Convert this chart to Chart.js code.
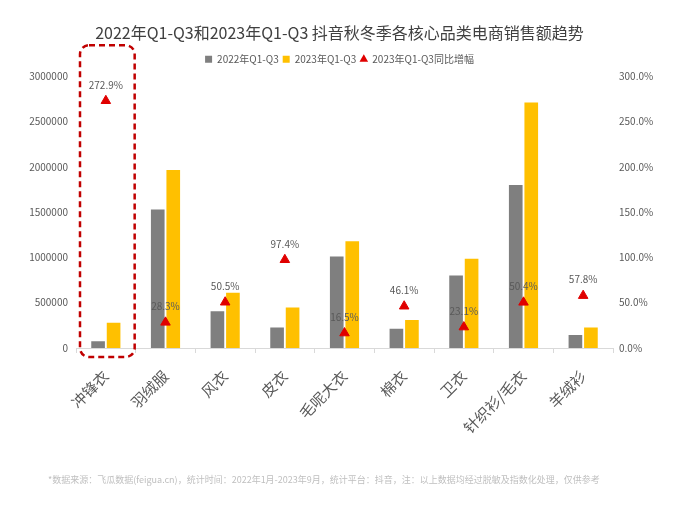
<!DOCTYPE html>
<html>
<head>
<meta charset="utf-8">
<script src="https://cdn.jsdelivr.net/npm/chart.js@4"></script>
<style>
  html, body { margin: 0; padding: 0; background: #fff; }
  #wrap { width: 679px; height: 513px; }
</style>
</head>
<body>
<div id="wrap"><canvas id="salesChart" width="679" height="513"></canvas></div>
<script>
const categories = ['冲锋衣', '羽绒服', '风衣', '皮衣', '毛呢大衣', '棉衣', '卫衣', '针织衫/毛衣', '羊绒衫'];
const sales2022 = [75000, 1530000, 405000, 227000, 1010000, 212000, 800000, 1800000, 143000];
const sales2023 = [280000, 1965000, 610000, 448000, 1177000, 310000, 985000, 2710000, 226000];
const growth = [272.9, 28.3, 50.5, 97.4, 16.5, 46.1, 23.1, 50.4, 57.8];

const FONT = "'Noto Sans CJK SC', 'Noto Sans', sans-serif";
const footnote = '*数据来源：飞瓜数据(feigua.cn)，统计时间：2022年1月-2023年9月，统计平台：抖音，注：以上数据均经过脱敏及指数化处理，仅供参考';

// a little extra room under the legend
const legendSpace = {
  id: 'legendSpace',
  beforeInit(chart) {
    const fit = chart.legend.fit;
    chart.legend.fit = function () {
      fit.call(this);
      this.height += 2;
    };
  }
};

// percent labels above the triangles
const growthLabels = {
  id: 'growthLabels',
  afterDatasetsDraw(chart) {
    const ctx = chart.ctx;
    const meta = chart.getDatasetMeta(2);
    ctx.save();
    ctx.font = '10px ' + FONT;
    ctx.fillStyle = '#595959';
    ctx.textAlign = 'center';
    ctx.textBaseline = 'middle';
    meta.data.forEach((pt, i) => {
      ctx.fillText(growth[i].toFixed(1) + '%', pt.x, pt.y - 16);
    });
    ctx.restore();
  }
};

// dashed highlight round the first category
const highlightBox = {
  id: 'highlightBox',
  afterDatasetsDraw(chart) {
    const x = chart.scales.x;
    const area = chart.chartArea;
    const half = (x.getPixelForValue(1) - x.getPixelForValue(0)) / 2;
    const c = x.getPixelForValue(0);
    const left = c - half + 4, right = c + half - 1;
    const top = area.top - 31, bottom = area.bottom + 9;
    const ctx = chart.ctx;
    ctx.save();
    ctx.strokeStyle = '#c00000';
    ctx.lineWidth = 2.5;
    ctx.setLineDash([6, 4]);
    ctx.beginPath();
    ctx.roundRect(left, top, right - left, bottom - top, 9);
    ctx.stroke();
    ctx.restore();
  }
};

const footnoteText = {
  id: 'footnoteText',
  afterDraw(chart) {
    const ctx = chart.ctx;
    ctx.save();
    ctx.font = '9px ' + FONT;
    ctx.fillStyle = '#bfbfbf';
    ctx.textAlign = 'left';
    ctx.textBaseline = 'middle';
    ctx.fillText(footnote, 48, 480);
    ctx.restore();
  }
};

const ctx = document.getElementById('salesChart').getContext('2d');
new Chart(ctx, {
  type: 'bar',
  data: {
    labels: categories,
    datasets: [
      {
        label: '2022年Q1-Q3',
        data: sales2022,
        backgroundColor: '#7f7f7f',
        yAxisID: 'y',
        order: 2,
        categoryPercentage: 0.52,
        barPercentage: 0.88
      },
      {
        label: '2023年Q1-Q3',
        data: sales2023,
        backgroundColor: '#ffc000',
        yAxisID: 'y',
        order: 2,
        categoryPercentage: 0.52,
        barPercentage: 0.88
      },
      {
        type: 'line',
        label: '2023年Q1-Q3同比增幅',
        data: growth,
        yAxisID: 'y1',
        showLine: false,
        pointStyle: 'triangle',
        pointRadius: 5.5,
        pointHoverRadius: 5.5,
        backgroundColor: '#e00000',
        borderColor: '#e00000',
        borderWidth: 1,
        order: 1
      }
    ]
  },
  options: {
    responsive: false,
    animation: false,
    devicePixelRatio: 1,
    layout: { padding: { top: 22, left: 10, right: 10, bottom: 55 } },
    plugins: {
      title: {
        display: true,
        text: '2022年Q1-Q3和2023年Q1-Q3 抖音秋冬季各核心品类电商销售额趋势',
        color: '#404040',
        font: { family: FONT, size: 16, weight: 'normal' },
        padding: { top: 1, bottom: 8 }
      },
      legend: {
        position: 'top',
        labels: {
          usePointStyle: true,
          boxWidth: 7,
          boxHeight: 7,
          padding: 4,
          color: '#595959',
          font: { family: FONT, size: 10 },
          generateLabels(chart) {
            return chart.data.datasets.map((ds, i) => ({
              text: ds.label,
              fillStyle: ds.backgroundColor,
              strokeStyle: ds.backgroundColor,
              lineWidth: 0,
              pointStyle: i === 2 ? 'triangle' : 'rect',
              datasetIndex: i,
              fontColor: '#595959'
            }));
          }
        }
      },
      tooltip: { enabled: false }
    },
    scales: {
      x: {
        offset: true,
        grid: { display: true, drawOnChartArea: false, tickLength: 5, color: '#d9d9d9', offset: true },
        border: { color: '#d9d9d9' },
        ticks: {
          color: '#595959',
          font: { family: FONT, size: 15 },
          minRotation: 45,
          maxRotation: 45,
          autoSkip: false,
          padding: 14
        },
        afterFit(scale) { scale.height = 110; }
      },
      y: {
        position: 'left',
        min: 0,
        max: 3000000,
        grid: { display: false, tickLength: 0 },
        border: { display: false },
        ticks: {
          stepSize: 500000,
          padding: 8,
          color: '#595959',
          font: { family: FONT, size: 10 },
          callback: v => String(v)
        },
        afterFit(scale) { scale.width = 66; }
      },
      y1: {
        position: 'right',
        min: 0,
        max: 300,
        grid: { display: false, tickLength: 0 },
        border: { display: false },
        ticks: {
          stepSize: 50,
          padding: 6,
          color: '#595959',
          font: { family: FONT, size: 10 },
          callback: v => v.toFixed(1) + '%'
        },
        afterFit(scale) { scale.width = 56; }
      }
    }
  },
  plugins: [legendSpace, growthLabels, highlightBox, footnoteText]
});
</script>
</body>
</html>
